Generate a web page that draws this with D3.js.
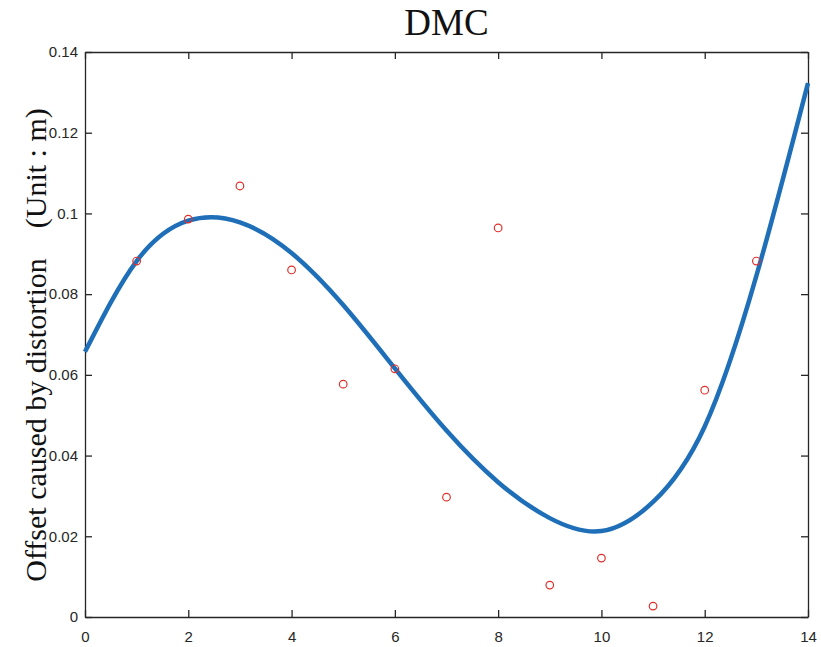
<!DOCTYPE html>
<html>
<head>
<meta charset="utf-8">
<script src="https://cdn.jsdelivr.net/npm/d3@7"></script>
<style>
  body { margin: 0; background: #fff; }
  svg { display: block; }
  .tick text { font-family: "Liberation Sans", Arial, sans-serif; font-size: 15px; fill: #262626; }
  .axis path, .axis line { stroke: #262626; stroke-width: 1.3; }
</style>
</head>
<body>
<div id="chart"></div>
<script>
// measured points (red circles)
const pointX = [1, 2, 3, 4, 5, 6, 7, 8, 9, 10, 11, 12, 13];
const pointY = [0.0882, 0.0986, 0.1068, 0.0860, 0.0577, 0.0615, 0.0297, 0.0964, 0.0079, 0.0146, 0.0027, 0.0562, 0.0882];

// fitted curve at each integer x
const curveX = [0, 1, 2, 3, 4, 5, 6, 7, 8, 9, 10, 11, 12, 13, 14];
const curveY = [0.0657, 0.0882, 0.0982, 0.0978, 0.0902, 0.0773, 0.0616, 0.0462, 0.0334, 0.0245, 0.0213, 0.0285, 0.0472, 0.0845, 0.1323];

const xTicks = [0, 2, 4, 6, 8, 10, 12, 14];
const yTicks = [0, 0.02, 0.04, 0.06, 0.08, 0.1, 0.12, 0.14];

const width = 821;
const height = 647;
const margin = { top: 52, right: 13, bottom: 30, left: 85 };

const svg = d3.select('#chart')
  .append('svg')
  .attr('width', width)
  .attr('height', height);

const xScale = d3.scaleLinear()
  .domain([0, 14])
  .range([margin.left, width - margin.right]);

const yScale = d3.scaleLinear()
  .domain([0, 0.14])
  .range([height - margin.bottom, margin.top]);

// box axes, ticks pointing inward like matlab
svg.append('g')
  .attr('class', 'axis')
  .attr('transform', `translate(0, ${height - margin.bottom})`)
  .call(d3.axisBottom(xScale).tickValues(xTicks).tickSizeInner(-7).tickSizeOuter(0).tickPadding(14.5));

svg.append('g')
  .attr('class', 'axis')
  .attr('transform', `translate(${margin.left}, 0)`)
  .call(d3.axisLeft(yScale).tickValues(yTicks).tickFormat(d => d === 0 ? '0' : String(+d.toFixed(2)))
    .tickSizeInner(-7).tickSizeOuter(0).tickPadding(7));

svg.append('g')
  .attr('class', 'axis')
  .attr('transform', `translate(0, ${margin.top})`)
  .call(d3.axisTop(xScale).tickValues(xTicks).tickFormat('').tickSizeInner(-7).tickSizeOuter(0));

svg.append('g')
  .attr('class', 'axis')
  .attr('transform', `translate(${width - margin.right}, 0)`)
  .call(d3.axisRight(yScale).tickValues(yTicks).tickFormat('').tickSizeInner(-7).tickSizeOuter(0));

svg.selectAll('.axis .domain').attr('fill', 'none');

// fitted curve
const curveData = curveX.map((x, i) => ({ x, y: curveY[i] }));
const line = d3.line()
  .x(d => xScale(d.x))
  .y(d => yScale(d.y))
  .curve(d3.curveNatural);

svg.append('path')
  .datum(curveData)
  .attr('d', line)
  .attr('fill', 'none')
  .attr('stroke', '#1f6fb8')
  .attr('stroke-width', 4.5);

// points
const pointData = pointX.map((x, i) => ({ x, y: pointY[i] }));
svg.append('g')
  .selectAll('circle')
  .data(pointData)
  .join('circle')
  .attr('cx', d => xScale(d.x))
  .attr('cy', d => yScale(d.y))
  .attr('r', 3.8)
  .attr('fill', 'none')
  .attr('stroke', '#e0302c')
  .attr('stroke-width', 1.2);

// title
svg.append('text')
  .attr('x', (margin.left + width - margin.right) / 2)
  .attr('y', 35)
  .attr('text-anchor', 'middle')
  .style('font-family', '"Liberation Serif", "Times New Roman", serif')
  .style('font-size', '37px')
  .style('fill', '#111')
  .text('DMC');

// y label
svg.append('text')
  .attr('transform', `translate(46, 345) rotate(-90)`)
  .attr('text-anchor', 'middle')
  .style('font-family', '"Liberation Serif", "Times New Roman", serif')
  .style('font-size', '30px')
  .style('fill', '#111')
  .style('white-space', 'pre')
  .text('Offset caused by distortion    (Unit : m)');
</script>
</body>
</html>
